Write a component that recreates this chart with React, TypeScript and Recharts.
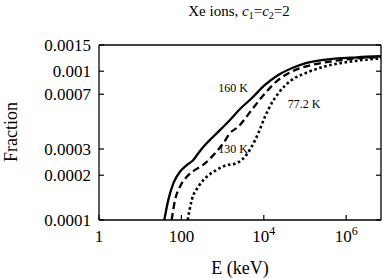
import React from 'react';
import { LineChart, Line, XAxis, YAxis, ReferenceDot } from 'recharts';

const FONT = '"Liberation Serif", "Times New Roman", serif';

// energy (keV) / fraction
const E_160K = [38.5, 48, 64, 92, 135, 195, 257, 374, 543, 951, 1510, 2640, 5080, 10700, 22500, 47500, 100000, 278000, 1.8e6, 7e6];
const F_160K = [1.0e-4, 1.36e-4, 1.77e-4, 2.11e-4, 2.34e-4, 2.53e-4, 2.81e-4, 3.19e-4, 3.54e-4, 4.13e-4, 4.7e-4, 5.57e-4, 6.58e-4, 8.08e-4, 9.43e-4, 1.046e-3, 1.13e-3, 1.19e-3, 1.24e-3, 1.26e-3];

const E_130K = [58, 70, 92, 135, 214, 374, 595, 1040, 1510, 2410, 5080, 10700, 22500, 47500, 100000, 405000, 1.8e6, 7e6];
const F_130K = [1.0e-4, 1.36e-4, 1.67e-4, 1.95e-4, 2.17e-4, 2.4e-4, 2.73e-4, 3.28e-4, 3.83e-4, 4.24e-4, 5.49e-4, 7.1e-4, 8.73e-4, 9.93e-4, 1.072e-3, 1.16e-3, 1.22e-3, 1.245e-3];

const E_77K = [142, 178, 257, 411, 719, 1260, 1900, 2910, 5080, 7350, 10700, 15500, 22500, 47500, 100000, 278000, 1.24e6, 7e6];
const F_77K = [1.0e-4, 1.36e-4, 1.67e-4, 1.95e-4, 2.17e-4, 2.34e-4, 2.38e-4, 2.53e-4, 3.11e-4, 3.83e-4, 4.95e-4, 6.09e-4, 7.1e-4, 8.73e-4, 9.67e-4, 1.07e-3, 1.16e-3, 1.22e-3];

const X_TICKS = [1, 100, 1e4, 1e6];
const X_TICK_LABELS = ['1', '100', '10^4', '10^6'];
const Y_TICKS = [0.0001, 0.00015, 0.0002, 0.0003, 0.0005, 0.0007, 0.001, 0.0015];
const Y_TICK_LABELS = ['0.0001', '0.00015', '0.0002', '0.0003', '0.0005', '0.0007', '0.001', '0.0015'];

const CURVE_LABELS = ['160 K', '130 K', '77.2 K'];
const LABEL_E = [1790, 1790, 94600];
const LABEL_F = [7.8e-4, 3.02e-4, 6.0e-4];

const zip = (es: number[], fs: number[]) => es.map((e, i) => ({ e, f: fs[i] }));
const data160 = zip(E_160K, F_160K);
const data130 = zip(E_130K, F_130K);
const data77 = zip(E_77K, F_77K);

const TICK_LEN = 5;

function BottomTick({ x, y, payload }: any) {
  const label = X_TICK_LABELS[X_TICKS.indexOf(payload.value)] ?? String(payload.value);
  const [base, exp] = label.split('^');
  return (
    <g>
      <line x1={x} x2={x} y1={y} y2={y - TICK_LEN} stroke="#000" strokeWidth={1.2} />
      <text x={x} y={y + 22} textAnchor="middle" fontSize={17} fontFamily={FONT} fill="#000">
        {base}
        {exp && (
          <tspan dy={-7} fontSize={12}>
            {exp}
          </tspan>
        )}
      </text>
    </g>
  );
}

function TopTick({ x, y }: any) {
  return <line x1={x} x2={x} y1={y} y2={y + TICK_LEN} stroke="#000" strokeWidth={1.2} />;
}

function LeftTick({ x, y, payload }: any) {
  const label = Y_TICK_LABELS[Y_TICKS.indexOf(payload.value)] ?? String(payload.value);
  return (
    <g>
      <line x1={x} x2={x + TICK_LEN} y1={y} y2={y} stroke="#000" strokeWidth={1.2} />
      <text x={x - 8} y={y} dy="0.35em" textAnchor="end" fontSize={17} fontFamily={FONT} fill="#000">
        {label}
      </text>
    </g>
  );
}

function RightTick({ x, y }: any) {
  return <line x1={x} x2={x - TICK_LEN} y1={y} y2={y} stroke="#000" strokeWidth={1.2} />;
}

export default function App() {
  const axisLine = { stroke: '#000', strokeWidth: 1.3 };
  return (
    <div style={{ position: 'absolute', left: 0, top: 0, width: 386, height: 278, background: '#fff' }}>
      <LineChart width={386} height={278} margin={{ top: 0, right: 0, bottom: 0, left: 0 }}>
        <XAxis
          dataKey="e"
          type="number"
          scale="log"
          domain={[1, 7e6]}
          allowDataOverflow
          ticks={X_TICKS}
          tick={<BottomTick />}
          tickLine={false}
          tickSize={0}
          tickMargin={0}
          axisLine={axisLine}
          height={58}
        />
        <XAxis
          xAxisId="top"
          orientation="top"
          type="number"
          scale="log"
          domain={[1, 7e6]}
          allowDataOverflow
          ticks={X_TICKS}
          tick={<TopTick />}
          tickLine={false}
          tickSize={0}
          tickMargin={0}
          axisLine={axisLine}
          height={45}
        />
        <YAxis
          type="number"
          scale="log"
          domain={[0.0001, 0.0015]}
          allowDataOverflow
          ticks={Y_TICKS}
          tick={<LeftTick />}
          tickLine={false}
          tickSize={0}
          tickMargin={0}
          axisLine={axisLine}
          width={99}
        />
        <YAxis
          yAxisId="right"
          orientation="right"
          type="number"
          scale="log"
          domain={[0.0001, 0.0015]}
          allowDataOverflow
          ticks={Y_TICKS}
          tick={<RightTick />}
          tickLine={false}
          tickSize={0}
          tickMargin={0}
          axisLine={axisLine}
          width={5}
        />
        <Line data={data160} dataKey="f" type="monotone" stroke="#000" strokeWidth={2.3} dot={false} isAnimationActive={false} />
        <Line data={data130} dataKey="f" type="monotone" stroke="#000" strokeWidth={2.3} strokeDasharray="7 4" dot={false} isAnimationActive={false} />
        <Line data={data77} dataKey="f" type="monotone" stroke="#000" strokeWidth={2.6} strokeDasharray="2.6 2.6" dot={false} isAnimationActive={false} />
        {CURVE_LABELS.map((name, i) => (
          <ReferenceDot
            key={name}
            x={LABEL_E[i]}
            y={LABEL_F[i]}
            r={0}
            fill="none"
            stroke="none"
            label={{ value: name, position: 'center', fontSize: 12, fontFamily: FONT, fill: '#000' }}
          />
        ))}
        <text x={239} y={16} textAnchor="middle" fontSize={15} fontFamily={FONT} fill="#000">
          Xe ions, <tspan fontStyle="italic">c</tspan>
          <tspan dy={3} fontSize={10}>1</tspan>
          <tspan dy={-3}>=</tspan>
          <tspan fontStyle="italic">c</tspan>
          <tspan dy={3} fontSize={10}>2</tspan>
          <tspan dy={-3}>=2</tspan>
        </text>
        <text x={17} y={132} textAnchor="middle" fontSize={18} fontFamily={FONT} fill="#000" transform="rotate(-90 17 132)">
          Fraction
        </text>
        <text x={240} y={274} textAnchor="middle" fontSize={18} fontFamily={FONT} fill="#000">
          E (keV)
        </text>
      </LineChart>
    </div>
  );
}
